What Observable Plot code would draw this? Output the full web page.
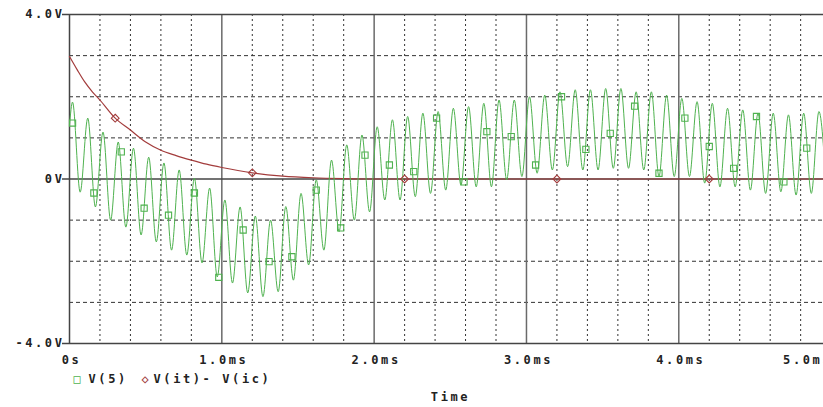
<!DOCTYPE html>
<html>
<head>
<meta charset="utf-8">
<script src="https://cdn.jsdelivr.net/npm/d3@7"></script>
<script src="https://cdn.jsdelivr.net/npm/@observablehq/plot@0.6"></script>
<style>
  html, body { margin: 0; padding: 0; background: white; }
  svg text { letter-spacing: 2.6px; font-weight: bold; }
</style>
</head>
<body>
<div id="chart"></div>
<script>
// Tick values and labels
const xTicks = [0, 1, 2, 3, 4];
const xTickLabels = ["0s", "1.0ms", "2.0ms", "3.0ms", "4.0ms"];
const xLastTick = [5];
const xLastTickLabel = ["5.0ms"];
const xMajorGrid = [1, 2, 3, 4];
const xMinorGrid = [0.2, 0.4, 0.6, 0.8, 1.2, 1.4, 1.6, 1.8, 2.2, 2.4, 2.6, 2.8,
                    3.2, 3.4, 3.6, 3.8, 4.2, 4.4, 4.6, 4.8];
const yTicks = [-4, 0, 4];
const yTickLabels = ["-4.0V", "0V", "4.0V"];
const yGrid = [-3, -2, -1, 1, 2, 3];

// V(5): time (ms) of the start point and of every peak/trough, and the voltage there
const v5T = [0,
  0.02, 0.07, 0.12, 0.17, 0.22, 0.27, 0.32, 0.37, 0.42, 0.47, 0.52, 0.57, 0.62, 0.67, 0.72, 0.77,
  0.82, 0.87, 0.92, 0.97, 1.02, 1.07, 1.12, 1.17, 1.22, 1.27, 1.32, 1.37, 1.42, 1.47, 1.52, 1.57,
  1.62, 1.67, 1.72, 1.77, 1.82, 1.87, 1.92, 1.97, 2.02, 2.07, 2.12, 2.17, 2.22, 2.27, 2.32, 2.37,
  2.42, 2.47, 2.52, 2.57, 2.62, 2.67, 2.72, 2.77, 2.82, 2.87, 2.92, 2.97, 3.02, 3.07, 3.12, 3.17,
  3.22, 3.27, 3.32, 3.37, 3.42, 3.47, 3.52, 3.57, 3.62, 3.67, 3.72, 3.77, 3.82, 3.87, 3.92, 3.97,
  4.02, 4.07, 4.12, 4.17, 4.22, 4.27, 4.32, 4.37, 4.42, 4.47, 4.52, 4.57, 4.62, 4.67, 4.72, 4.77,
  4.82, 4.87, 4.92, 4.97];
const v5V = [1.30,
  1.87, -0.32, 1.48, -0.68, 1.14, -1.00, 0.90, -1.17, 0.75, -1.36, 0.53, -1.53, 0.39, -1.73, 0.22, -1.85,
  0.02, -2.04, -0.22, -2.38, -0.51, -2.53, -0.68, -2.77, -0.90, -2.86, -1.00, -2.74, -0.67, -2.46, -0.35, -2.09,
  -0.02, -1.73, 0.46, -1.28, 0.83, -1.00, 1.07, -0.80, 1.27, -0.51, 1.44, -0.51, 1.52, -0.43, 1.60, -0.35,
  1.64, -0.27, 1.72, -0.15, 1.76, -0.19, 1.84, -0.19, 1.92, -0.02, 1.92, 0.06, 2.00, 0.14, 2.04, 0.22,
  2.12, 0.30, 2.17, 0.22, 2.17, 0.22, 2.20, 0.26, 2.20, 0.26, 2.12, 0.22, 2.12, 0.06, 2.04, 0.06,
  1.96, 0.06, 1.88, -0.10, 1.84, -0.19, 1.72, -0.19, 1.68, -0.27, 1.60, -0.35, 1.60, -0.31, 1.56, -0.39,
  1.60, -0.35, 1.64, -0.36];

// V(5) square markers
const v5MarkT = [0.02, 0.16, 0.34, 0.49, 0.65, 0.82, 0.98, 1.14, 1.31, 1.46, 1.62, 1.78, 1.94, 2.10, 2.26, 2.41,
  2.59, 2.74, 2.90, 3.06, 3.23, 3.39, 3.55, 3.71, 3.87, 4.04, 4.20, 4.36, 4.51, 4.69, 4.84];
const v5MarkV = [1.36, -0.34, 0.66, -0.71, -0.88, -0.34, -2.39, -1.24, -2.01, -1.89, -0.27, -1.19, 0.58, 0.34, 0.18, 1.48,
  -0.07, 1.15, 1.03, 0.34, 2.00, 0.72, 1.11, 1.77, 0.14, 1.48, 0.79, 0.26, 1.52, -0.07, 0.75];

// V(it)- V(ic)
const vdT = [0, 0.05, 0.1, 0.15, 0.2, 0.3, 0.4, 0.5, 0.6, 0.7, 0.8, 0.9, 1.0, 1.2, 1.4, 1.6, 1.8, 2.0, 2.5, 3.0, 3.5, 4.0, 4.5, 5.0];
const vdV = [2.98, 2.66, 2.36, 2.12, 1.92, 1.48, 1.19, 0.90, 0.70, 0.57, 0.46, 0.36, 0.28, 0.15, 0.07, 0.03, 0.01, 0, 0, 0, 0, 0, 0, 0];
const vdMarkT = [0.30, 1.20, 2.20, 3.20, 4.20];
const vdMarkV = [1.48, 0.15, 0.0, 0.0, 0.0];

const green = "#4fb24f";
const red = "#a33c3c";

const v5 = v5T.map((t, i) => ({t, v: v5V[i]}));
const v5Marks = v5MarkT.map((t, i) => ({t, v: v5MarkV[i]}));
const vd = vdT.map((t, i) => ({t, v: vdV[i]}));
const vdMarks = vdMarkT.map((t, i) => ({t, v: vdMarkV[i]}));

const chart = Plot.plot({
  width: 823,
  height: 407,
  marginLeft: 69,
  marginRight: 0,
  marginTop: 14,
  marginBottom: 64,
  x: {domain: [0, 4.95], axis: null},
  y: {domain: [-4, 4], axis: null},
  style: {fontFamily: "'DejaVu Sans Mono', 'Liberation Mono', monospace", fontSize: "12px", fontWeight: "bold", background: "white", color: "#222"},
  marks: [
    Plot.ruleX(xMinorGrid, {x: d => d, stroke: "#333", strokeWidth: 1, strokeDasharray: "2,3"}),
    Plot.ruleY(yGrid, {y: d => d, stroke: "#333", strokeWidth: 1, strokeDasharray: "4,3"}),
    Plot.ruleX(xMajorGrid, {x: d => d, stroke: "#6a6a6a", strokeWidth: 1.5}),
    Plot.ruleY(yTicks, {y: d => d, x1: -0.046, x2: 4.95, stroke: "#444", strokeWidth: 1.5}),
    Plot.ruleX([0], {stroke: "#444", strokeWidth: 1.5}),
    Plot.text(yTicks, {y: d => d, text: (d, i) => yTickLabels[i], frameAnchor: "left", dx: -5, textAnchor: "end", fill: "#222"}),
    Plot.text(xTicks, {x: d => d, text: (d, i) => xTickLabels[i], frameAnchor: "bottom", dy: 20, dx: 2, fill: "#222"}),
    Plot.text(xLastTick, {x: d => d, text: (d, i) => xLastTickLabel[i], frameAnchor: "bottom", dy: 20, dx: -48, textAnchor: "start", fill: "#222"}),
    Plot.line(vd, {x: "t", y: "v", stroke: red, strokeWidth: 1.2, curve: "monotone-x"}),
    Plot.line(v5, {x: "t", y: "v", stroke: green, strokeWidth: 1, curve: "monotone-x"}),
    Plot.dot(v5Marks, {x: "t", y: "v", symbol: "square", r: 3.5, stroke: green, strokeWidth: 1.1, fill: "none"}),
    Plot.dot(vdMarks, {x: "t", y: "v", symbol: "diamond2", r: 3.5, stroke: red, strokeWidth: 1.1, fill: "none"}),
    Plot.text(["\u25A1"], {frameAnchor: "bottom-left", dx: 4, dy: 39, fill: green, fontSize: 12}),
    Plot.text(["V(5)"], {frameAnchor: "bottom-left", dx: 19, dy: 39, textAnchor: "start", fill: "#222"}),
    Plot.text(["\u25C7"], {frameAnchor: "bottom-left", dx: 72, dy: 39, fill: red, fontSize: 12}),
    Plot.text(["V(it)- V(ic)"], {frameAnchor: "bottom-left", dx: 84, dy: 39, textAnchor: "start", fill: "#222"}),
    Plot.text(["Time"], {frameAnchor: "bottom", dy: 57, dx: 4, fill: "#222"})
  ]
});
document.getElementById("chart").appendChild(chart);
</script>
</body>
</html>
